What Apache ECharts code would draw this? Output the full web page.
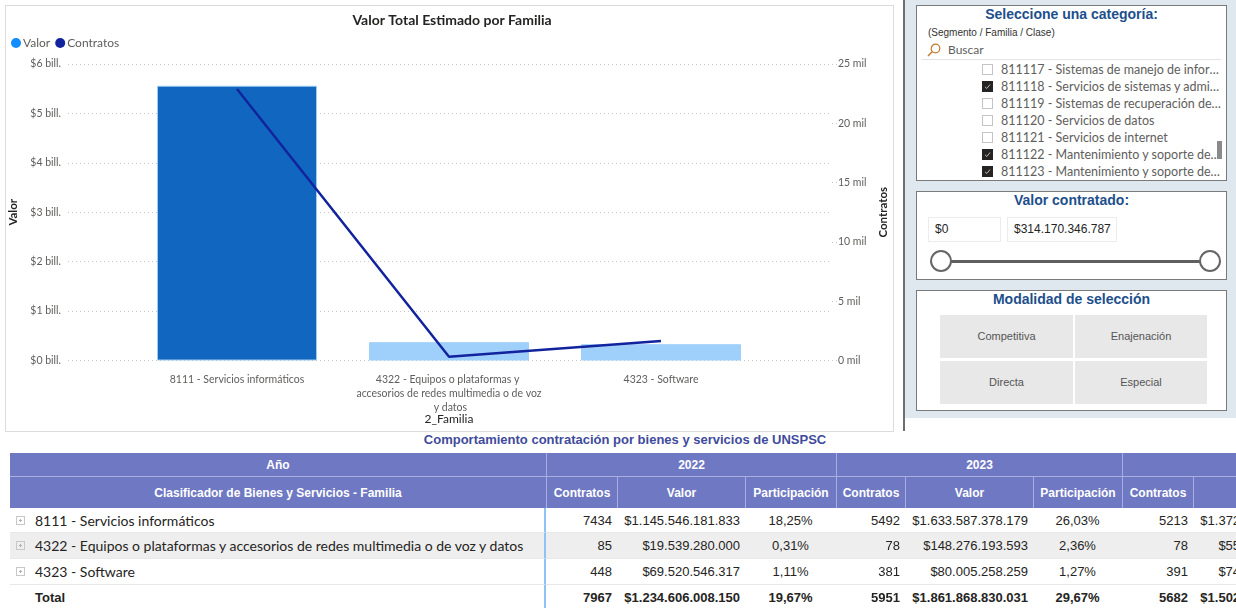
<!DOCTYPE html>
<html lang="es">
<head>
<meta charset="utf-8">
<title>Valor Total Estimado por Familia</title>
<script src="https://cdn.jsdelivr.net/npm/echarts@6.0.0/dist/echarts.min.js"></script>
<style>
  html, body { margin: 0; padding: 0; }
  body { width: 1236px; height: 608px; overflow: hidden; position: relative; background: #fff; font-family: 'Liberation Sans', Arial, sans-serif; }
  .abs { position: absolute; }
  #frame { left: 5px; top: 5px; width: 887px; height: 425px; border: 1px solid #dcdcdc; }
  #chart { left: 0; top: 0; width: 904px; height: 432px; }
  #sep { left: 903px; top: 0; width: 2px; height: 431px; background: #6e6e6e; }
  #panel { left: 905px; top: 0; width: 331px; height: 418px; background: #dfe7ef; }
  .box { position: absolute; left: 916px; width: 309px; background: #fff; border: 1px solid #7a7a7a; }
  .box .ttl { position: absolute; left: 0; right: 0; top: 0; line-height: 16px; text-align: center; font-size: 14px; font-weight: bold; color: #1d4f8c; }
  .sub { left: 11px; top: 21px; line-height: 12px; font-size: 10px; color: #333; }
  .buscar { left: 31px; top: 37px; line-height: 14px; font-size: 12px; color: #605e5c; font-family: Lato, sans-serif; }
  .lupa { left: 10px; top: 37px; }
  .divisor { left: 5px; right: 5px; top: 53px; height: 1px; background: #e3e3e3; }
  #lista { left: 0; top: 55px; width: 307px; height: 119px; overflow: hidden; }
  .item { position: absolute; left: 0; height: 17px; width: 307px; }
  .chk { position: absolute; left: 65px; top: 3px; width: 11px; height: 11px; box-sizing: border-box; border: 1px solid #c4c4c4; background: #fff; }
  .chk.on { background: #252423; border-color: #252423; }
  .chk svg { position: absolute; left: 1px; top: 1px; }
  .lbl { position: absolute; left: 84px; top: 0; width: 220px; line-height: 17px; font-size: 12.5px; color: #605e5c; font-family: Lato, sans-serif; white-space: nowrap; overflow: hidden; text-overflow: ellipsis; }
  .scroll { left: 300px; top: 135px; width: 5px; height: 18px; background: #8a8a8a; }
  .inp { top: 25px; height: 25px; box-sizing: border-box; border: 1px solid #ececec; line-height: 23px; font-size: 12px; color: #252423; padding-left: 6px; }
  .track { left: 24px; top: 68px; width: 269px; height: 3px; background: #5f5f5f; }
  .handle { top: 58px; width: 22px; height: 22px; box-sizing: border-box; border: 2px solid #666; border-radius: 50%; background: #fff; }
  .btn { height: 43px; background: #e8e8e8; text-align: center; line-height: 43px; font-size: 11px; color: #555; }
  #tituloTabla { left: 0; top: 432px; width: 1250px; text-align: center; line-height: 16px; font-size: 13px; font-weight: bold; color: #3f4b9c; }
  #tbl { position: absolute; left: 10px; top: 453px; border-collapse: separate; border-spacing: 0; table-layout: fixed; width: 1400px; font-size: 13px; color: #252423; }
  #tbl th { background: #6f78c3; color: #fff; font-weight: bold; font-size: 12px; padding: 0; text-align: center; border-left: 1px solid #a9aee0; white-space: nowrap; overflow: hidden; }
  #tbl th.first { border-left: none; }
  #tbl tr.h1 th { height: 23px; border-bottom: 1px solid #a9aee0; }
  #tbl tr.h2 th { height: 31px; }
  #tbl td { padding: 0 5px; white-space: nowrap; overflow: hidden; border-bottom: 1px solid #e8e8e8; }
  #tbl td.rh { font-family: Lato, sans-serif; font-size: 14px; padding-left: 25px; position: relative; border-right: 2px solid #8cc4f5; }
  #tbl td.num { text-align: right; }
  #tbl td.pct { text-align: center; }
  #tbl tr.gris td { background: #eeeeee; }
  #tbl tr.tot td { font-weight: bold; border-bottom: none; }
  .exp { position: absolute; left: 6px; top: 8px; width: 9px; height: 9px; box-sizing: border-box; border: 1px solid #c8c8c8; }
  .exp:after { content: ''; position: absolute; left: 2px; top: 3px; width: 3px; height: 1px; background: #b0b0b0; }
  .exp:before { content: ''; position: absolute; left: 3px; top: 2px; width: 1px; height: 3px; background: #b0b0b0; }
</style>
</head>
<body>
<div id="frame" class="abs"></div>
<div id="chart" class="abs"></div>
<div id="panel" class="abs"></div>
<div id="sep" class="abs"></div>

<div class="box" style="top:5px;height:174px;">
  <div class="ttl">Seleccione una categoría:</div>
  <div class="abs sub">(Segmento / Familia / Clase)</div>
  <svg class="abs lupa" width="14" height="14" viewBox="0 0 14 14"><circle cx="8.5" cy="5.5" r="4.3" fill="none" stroke="#c47a2c" stroke-width="1.2"/><line x1="5.4" y1="8.6" x2="1" y2="13" stroke="#c47a2c" stroke-width="1.4"/></svg>
  <div class="abs buscar">Buscar</div>
  <div class="abs divisor"></div>
  <div id="lista" class="abs"></div>
  <div class="abs scroll"></div>
</div>

<div class="box" style="top:191px;height:87px;">
  <div class="ttl">Valor contratado:</div>
  <div class="abs inp" id="inpMin" style="left:11px;width:73px;"></div>
  <div class="abs inp" id="inpMax" style="left:90px;width:110px;"></div>
  <div class="abs track"></div>
  <div class="abs handle" style="left:13px;"></div>
  <div class="abs handle" style="left:282px;"></div>
</div>

<div class="box" style="top:290px;height:119px;" id="boxModalidad">
  <div class="ttl">Modalidad de selección</div>
</div>

<div id="tituloTabla" class="abs">Comportamiento contratación por bienes y servicios de UNSPSC</div>
<table id="tbl"></table>

<script>
// datos del gráfico (total por familia)
const familias = ['8111 - Servicios informáticos', '4322 - Equipos o plataformas y accesorios de redes multimedia o de voz y datos', '4323 - Software'];
const valorFamilia = [5.56e12, 0.37e12, 0.33e12];
const contratosFamilia = [22900, 320, 1640];
const ticksValor = ['$0 bill.', '$1 bill.', '$2 bill.', '$3 bill.', '$4 bill.', '$5 bill.', '$6 bill.'];
const ticksContratos = ['0 mil', '5 mil', '10 mil', '15 mil', '20 mil', '25 mil'];

// tabla por año
const anios = ['2022', '2023', '2024'];
const contratos2022 = [7434, 85, 448];
const valor2022 = [1145546181833, 19539280000, 69520546317];
const particip2022 = [18.25, 0.31, 1.11];
const contratos2023 = [5492, 78, 381];
const valor2023 = [1633587378179, 148276193593, 80005258259];
const particip2023 = [26.03, 2.36, 1.27];
const contratos2024 = [5213, 78, 391];
const valor2024 = [1372415000000, 55318000000, 74967000000];
const particip2024 = [21.86, 0.88, 1.19];
const participTotal = [19.67, 29.67, 23.93];

// slicers
const clases = ['811117 - Sistemas de manejo de información', '811118 - Servicios de sistemas y administración de componentes', '811119 - Sistemas de recuperación de información', '811120 - Servicios de datos', '811121 - Servicios de internet', '811122 - Mantenimiento y soporte de software', '811123 - Mantenimiento y soporte de hardware'];
const clasesMarcadas = [0, 1, 0, 0, 0, 1, 1];
const rangoValor = ['$0', '$314.170.346.787'];
const modalidades = ['Competitiva', 'Enajenación', 'Directa', 'Especial'];

const barColors = ['#1167bf', '#9fd0fb', '#9fd0fb'];
const fontUI = "'Segoe UI', Lato, 'Liberation Sans', sans-serif";

const chart = echarts.init(document.getElementById('chart'));
const option = {
  animation: false,
  textStyle: { fontFamily: fontUI },
  title: {
    text: 'Valor Total Estimado por Familia',
    left: 'center',
    top: 8,
    textStyle: { fontSize: 14, fontWeight: 'bold', color: '#252423', fontFamily: fontUI }
  },
  legend: {
    left: 11,
    top: 37,
    padding: 0,
    icon: 'circle',
    itemWidth: 10,
    itemHeight: 10,
    itemGap: 5,
    textStyle: { fontSize: 12, color: '#605e5c', fontFamily: fontUI, padding: [0, 0, 0, -3] },
    data: ['Valor', 'Contratos']
  },
  grid: [
    { left: 68, top: 64, width: 764, height: 296.5, outerBoundsMode: 'none' },
    { left: 131, top: 64, width: 636, height: 296.5, outerBoundsMode: 'none' }
  ],
  xAxis: [
    { gridIndex: 0, type: 'value', show: false, min: 0, max: 1 },
    {
      gridIndex: 1,
      type: 'category',
      data: familias,
      axisLine: { show: false },
      axisTick: { show: false },
      axisLabel: { interval: 0, margin: 12, width: 188, overflow: 'break', lineHeight: 14, fontSize: 10.5, color: '#605e5c' },
      name: '2_Familia',
      nameLocation: 'middle',
      nameGap: 53,
      nameMoveOverlap: false,
      nameTextStyle: { fontSize: 12, color: '#252423' }
    }
  ],
  yAxis: [
    {
      gridIndex: 0, type: 'value', position: 'left', min: 0, max: 6e12, interval: 1e12,
      axisLine: { show: false }, axisTick: { show: false },
      axisLabel: { margin: 7, fontSize: 10.5, color: '#605e5c', formatter: (v, i) => ticksValor[i] },
      splitLine: { lineStyle: { type: [1, 3], color: '#c8c6c4' } },
      name: 'Valor', nameLocation: 'middle', nameGap: 38, nameRotate: 90,
      nameTextStyle: { fontSize: 11.5, fontWeight: 'bold', color: '#252423' }
    },
    {
      gridIndex: 0, type: 'value', position: 'right', min: 0, max: 25000, interval: 5000,
      axisLine: { show: false },
      axisTick: { show: true, length: 6, lineStyle: { type: [1, 3], color: '#c8c6c4' } },
      axisLabel: { margin: 6, fontSize: 10.5, color: '#605e5c', formatter: (v, i) => ticksContratos[i] },
      splitLine: { show: false },
      name: 'Contratos', nameLocation: 'middle', nameGap: 44, nameRotate: 90,
      nameTextStyle: { fontSize: 11.5, fontWeight: 'bold', color: '#252423' }
    },
    { gridIndex: 1, type: 'value', show: false, min: 0, max: 6e12 },
    { gridIndex: 1, type: 'value', show: false, min: 0, max: 25000 }
  ],
  series: [
    {
      name: 'Valor',
      type: 'bar',
      xAxisIndex: 1,
      yAxisIndex: 2,
      barWidth: 160,
      itemStyle: { color: '#118dff' },
      data: valorFamilia.map((v, i) => ({
        value: v,
        itemStyle: { color: barColors[i], borderColor: i === 0 ? '#9ecbf2' : barColors[i], borderWidth: 1 }
      }))
    },
    {
      name: 'Contratos',
      type: 'line',
      xAxisIndex: 1,
      yAxisIndex: 3,
      data: contratosFamilia,
      showSymbol: false,
      symbol: 'none',
      itemStyle: { color: '#12239e' },
      lineStyle: { width: 2.5, color: '#12239e' }
    }
  ]
};
chart.setOption(option);

// slicer de categorías
const lista = document.getElementById('lista');
clases.forEach((c, i) => {
  const it = document.createElement('div');
  it.className = 'item';
  it.style.top = (i * 17) + 'px';
  const on = clasesMarcadas[i] === 1;
  it.innerHTML = '<div class="chk' + (on ? ' on' : '') + '">' +
    (on ? '<svg width="7" height="7" viewBox="0 0 7 7"><path d="M1 3.8 L2.8 5.5 L6 1.5" fill="none" stroke="#bbb" stroke-width="1"/></svg>' : '') +
    '</div><div class="lbl">' + c + '</div>';
  lista.appendChild(it);
});
document.getElementById('inpMin').textContent = rangoValor[0];
document.getElementById('inpMax').textContent = rangoValor[1];

const boxMod = document.getElementById('boxModalidad');
modalidades.forEach((m, i) => {
  const b = document.createElement('div');
  b.className = 'abs btn';
  b.style.left = (i % 2 === 0 ? 23 : 158) + 'px';
  b.style.top = (i < 2 ? 24 : 70) + 'px';
  b.style.width = (i % 2 === 0 ? 133 : 132) + 'px';
  b.textContent = m;
  boxMod.appendChild(b);
});

// tabla
const fmtMiles = n => '$' + String(n).replace(/\B(?=(\d{3})+(?!\d))/g, '.');
const fmtPct = p => p.toFixed(2).replace('.', ',') + '%';
const suma = a => a.reduce((s, v) => s + v, 0);
const porAnio = [
  [contratos2022, valor2022, particip2022],
  [contratos2023, valor2023, particip2023],
  [contratos2024, valor2024, particip2024]
];
const anchos = [536, 71, 128, 91, 69, 128, 89, 71, 128, 89];
let html = '<colgroup>' + anchos.map(w => '<col style="width:' + w + 'px">').join('') + '</colgroup>';
html += '<tr class="h1"><th class="first">Año</th>' + anios.map(a => '<th colspan="3">' + a + '</th>').join('') + '</tr>';
html += '<tr class="h2"><th class="first">Clasificador de Bienes y Servicios - Familia</th>' +
  anios.map(() => '<th>Contratos</th><th>Valor</th><th>Participación</th>').join('') + '</tr>';
const altos = [25, 26, 26];
familias.forEach((f, r) => {
  html += '<tr' + (r === 1 ? ' class="gris"' : '') + ' style="height:' + altos[r] + 'px"><td class="rh"><span class="exp"></span>' + f + '</td>';
  porAnio.forEach(([c, v, p]) => {
    html += '<td class="num">' + c[r] + '</td><td class="num">' + fmtMiles(v[r]) + '</td><td class="pct">' + fmtPct(p[r]) + '</td>';
  });
  html += '</tr>';
});
html += '<tr class="tot" style="height:25px"><td class="rh" style="font-family:\'Liberation Sans\',Arial,sans-serif;font-size:13px;">Total</td>';
porAnio.forEach(([c, v], k) => {
  html += '<td class="num">' + suma(c) + '</td><td class="num">' + fmtMiles(suma(v)) + '</td><td class="pct">' + fmtPct(participTotal[k]) + '</td>';
});
html += '</tr>';
document.getElementById('tbl').innerHTML = html;
</script>
</body>
</html>
